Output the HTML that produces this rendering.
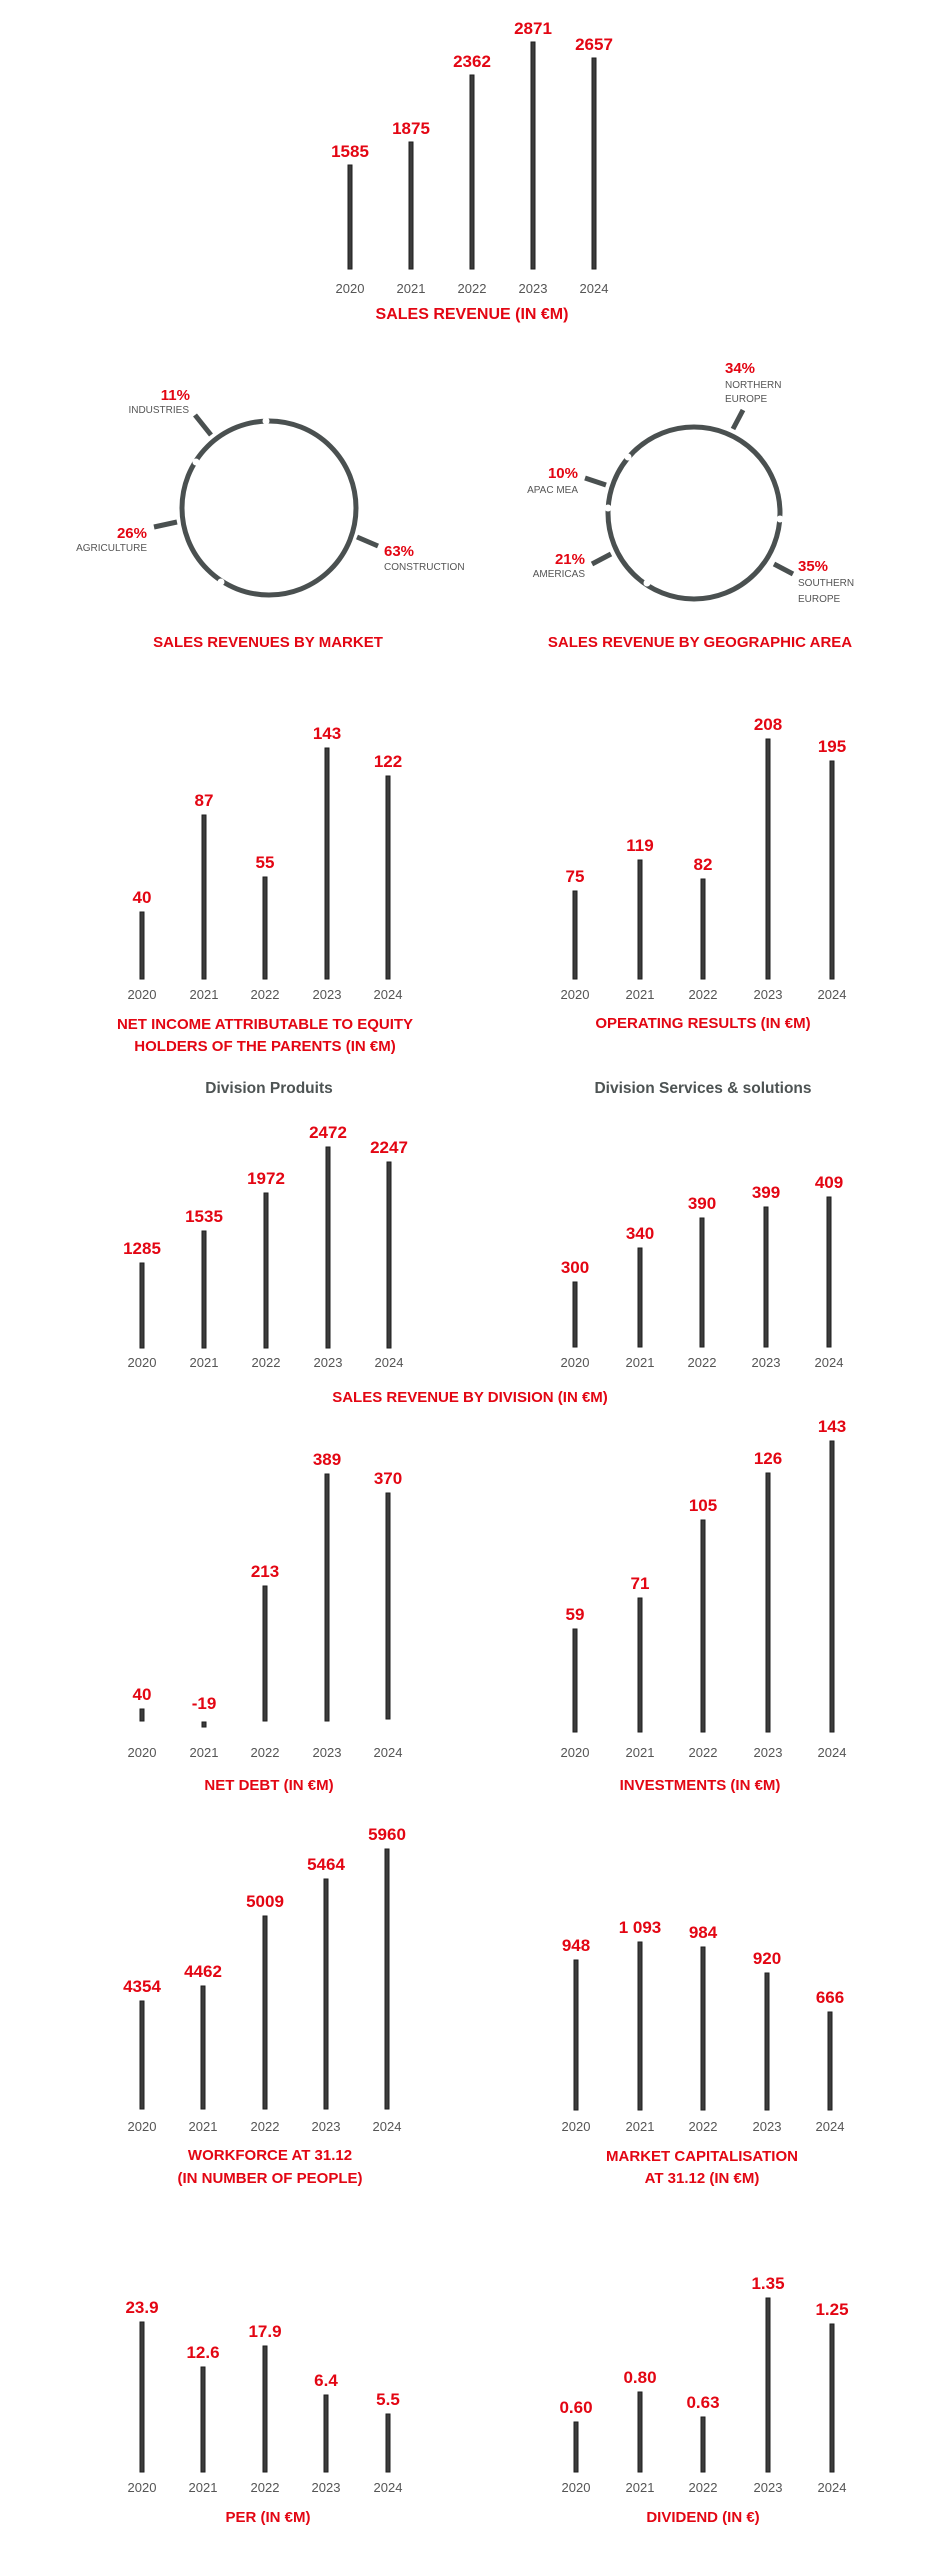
<!DOCTYPE html>
<html><head><meta charset="utf-8"><style>
html,body{margin:0;padding:0;background:#fff;}
svg{display:block;}
.v{font-family:"Liberation Sans",sans-serif;font-weight:bold;font-size:17px;fill:#e30613;text-anchor:middle;}
.y{font-family:"Liberation Sans",sans-serif;font-size:13px;fill:#555;text-anchor:middle;}
.t{font-family:"Liberation Sans",sans-serif;font-weight:bold;font-size:15px;fill:#e30613;text-anchor:middle;}
.h{font-family:"Liberation Sans",sans-serif;font-weight:bold;font-size:15.5px;fill:#4d5353;text-anchor:middle;}
.p{font-family:"Liberation Sans",sans-serif;font-weight:bold;font-size:15px;fill:#e30613;}
.s{font-family:"Liberation Sans",sans-serif;font-size:10px;fill:#555;}
.b{fill:#3c3c3c;stroke:#1e1e1e;stroke-width:1;}
.tk{stroke:#4a5050;stroke-width:5;}
</style></head><body>
<svg width="945" height="2560" viewBox="0 0 945 2560" xmlns="http://www.w3.org/2000/svg">
<!-- Chart 1: Sales revenue -->
<g>
<rect class="b" x="348" y="165" width="4" height="104"/>
<rect class="b" x="409" y="142" width="4" height="127"/>
<rect class="b" x="470" y="75" width="4" height="194"/>
<rect class="b" x="531" y="42" width="4" height="227"/>
<rect class="b" x="592" y="58" width="4" height="211"/>
<text class="v" x="350" y="157">1585</text>
<text class="v" x="411" y="134">1875</text>
<text class="v" x="472" y="67">2362</text>
<text class="v" x="533" y="34">2871</text>
<text class="v" x="594" y="50">2657</text>
<text class="y" x="350" y="293">2020</text>
<text class="y" x="411" y="293">2021</text>
<text class="y" x="472" y="293">2022</text>
<text class="y" x="533" y="293">2023</text>
<text class="y" x="594" y="293">2024</text>
<text class="t" x="472" y="319" style="font-size:16px">SALES REVENUE (IN €M)</text>
</g>
<!-- Donut left -->
<g>
<circle cx="269" cy="508" r="87" fill="none" stroke="#4a5050" stroke-width="5"/>
<circle cx="266" cy="421" r="3.5" fill="#fff"/>
<circle cx="196" cy="462" r="3.5" fill="#fff"/>
<circle cx="221" cy="582" r="3.5" fill="#fff"/>
<line class="tk" x1="195" y1="415" x2="211" y2="435" stroke-width="4"/>
<line class="tk" x1="154" y1="527" x2="177" y2="522" stroke-width="4"/>
<line class="tk" x1="357" y1="537" x2="378" y2="546" stroke-width="4"/>
<text class="p" x="190" y="400" text-anchor="end">11%</text>
<text class="s" x="189" y="413" text-anchor="end">INDUSTRIES</text>
<text class="p" x="147" y="538" text-anchor="end">26%</text>
<text class="s" x="147" y="551" text-anchor="end">AGRICULTURE</text>
<text class="p" x="384" y="556">63%</text>
<text class="s" x="384" y="570">CONSTRUCTION</text>
<text class="t" x="268" y="647">SALES REVENUES BY MARKET</text>
</g>
<!-- Donut right -->
<g>
<circle cx="694" cy="513" r="86" fill="none" stroke="#4a5050" stroke-width="5"/>
<circle cx="628" cy="457" r="3.5" fill="#fff"/>
<circle cx="608" cy="508" r="3.5" fill="#fff"/>
<circle cx="647" cy="583" r="3.5" fill="#fff"/>
<circle cx="780" cy="519" r="3.5" fill="#fff"/>
<line class="tk" x1="743" y1="410" x2="733" y2="429" stroke-width="4"/>
<line class="tk" x1="585" y1="478" x2="606" y2="485" stroke-width="4"/>
<line class="tk" x1="592" y1="564" x2="611" y2="554" stroke-width="4"/>
<line class="tk" x1="774" y1="564" x2="793" y2="574" stroke-width="4"/>
<text class="p" x="725" y="373">34%</text>
<text class="s" x="725" y="388">NORTHERN</text>
<text class="s" x="725" y="402">EUROPE</text>
<text class="p" x="578" y="478" text-anchor="end">10%</text>
<text class="s" x="578" y="493" text-anchor="end">APAC MEA</text>
<text class="p" x="585" y="564" text-anchor="end">21%</text>
<text class="s" x="585" y="577" text-anchor="end">AMERICAS</text>
<text class="p" x="798" y="571">35%</text>
<text class="s" x="798" y="586">SOUTHERN</text>
<text class="s" x="798" y="602">EUROPE</text>
<text class="t" x="700" y="647">SALES REVENUE BY GEOGRAPHIC AREA</text>
</g>
<!-- Net income -->
<g>
<rect class="b" x="140" y="912" width="4" height="67"/>
<rect class="b" x="202" y="815" width="4" height="164"/>
<rect class="b" x="263" y="877" width="4" height="102"/>
<rect class="b" x="325" y="748" width="4" height="231"/>
<rect class="b" x="386" y="776" width="4" height="203"/>
<text class="v" x="142" y="903">40</text>
<text class="v" x="204" y="806">87</text>
<text class="v" x="265" y="868">55</text>
<text class="v" x="327" y="739">143</text>
<text class="v" x="388" y="767">122</text>
<text class="y" x="142" y="999">2020</text>
<text class="y" x="204" y="999">2021</text>
<text class="y" x="265" y="999">2022</text>
<text class="y" x="327" y="999">2023</text>
<text class="y" x="388" y="999">2024</text>
<text class="t" x="265" y="1029">NET INCOME ATTRIBUTABLE TO EQUITY</text>
<text class="t" x="265" y="1051">HOLDERS OF THE PARENTS (IN €M)</text>
</g>
<!-- Operating results -->
<g>
<rect class="b" x="573" y="891" width="4" height="88"/>
<rect class="b" x="638" y="860" width="4" height="119"/>
<rect class="b" x="701" y="879" width="4" height="100"/>
<rect class="b" x="766" y="739" width="4" height="240"/>
<rect class="b" x="830" y="761" width="4" height="218"/>
<text class="v" x="575" y="882">75</text>
<text class="v" x="640" y="851">119</text>
<text class="v" x="703" y="870">82</text>
<text class="v" x="768" y="730">208</text>
<text class="v" x="832" y="752">195</text>
<text class="y" x="575" y="999">2020</text>
<text class="y" x="640" y="999">2021</text>
<text class="y" x="703" y="999">2022</text>
<text class="y" x="768" y="999">2023</text>
<text class="y" x="832" y="999">2024</text>
<text class="t" x="703" y="1028">OPERATING RESULTS (IN €M)</text>
</g>
<text class="h" x="269" y="1093">Division Produits</text>
<text class="h" x="703" y="1093">Division Services &amp; solutions</text>
<!-- Division produits -->
<g>
<rect class="b" x="140" y="1263" width="4" height="85"/>
<rect class="b" x="202" y="1231" width="4" height="117"/>
<rect class="b" x="264" y="1193" width="4" height="155"/>
<rect class="b" x="326" y="1147" width="4" height="201"/>
<rect class="b" x="387" y="1162" width="4" height="186"/>
<text class="v" x="142" y="1254">1285</text>
<text class="v" x="204" y="1222">1535</text>
<text class="v" x="266" y="1184">1972</text>
<text class="v" x="328" y="1138">2472</text>
<text class="v" x="389" y="1153">2247</text>
<text class="y" x="142" y="1367">2020</text>
<text class="y" x="204" y="1367">2021</text>
<text class="y" x="266" y="1367">2022</text>
<text class="y" x="328" y="1367">2023</text>
<text class="y" x="389" y="1367">2024</text>
</g>
<g>
<rect class="b" x="573" y="1282" width="4" height="65"/>
<rect class="b" x="638" y="1248" width="4" height="99"/>
<rect class="b" x="700" y="1218" width="4" height="129"/>
<rect class="b" x="764" y="1207" width="4" height="140"/>
<rect class="b" x="827" y="1197" width="4" height="150"/>
<text class="v" x="575" y="1273">300</text>
<text class="v" x="640" y="1239">340</text>
<text class="v" x="702" y="1209">390</text>
<text class="v" x="766" y="1198">399</text>
<text class="v" x="829" y="1188">409</text>
<text class="y" x="575" y="1367">2020</text>
<text class="y" x="640" y="1367">2021</text>
<text class="y" x="702" y="1367">2022</text>
<text class="y" x="766" y="1367">2023</text>
<text class="y" x="829" y="1367">2024</text>
</g>
<text class="t" x="470" y="1402">SALES REVENUE BY DIVISION (IN €M)</text>
<!-- Net debt -->
<g>
<rect class="b" x="140" y="1709" width="4" height="12"/>
<rect class="b" x="202" y="1722" width="4" height="5"/>
<rect class="b" x="263" y="1586" width="4" height="135"/>
<rect class="b" x="325" y="1474" width="4" height="247"/>
<rect class="b" x="386" y="1493" width="4" height="226"/>
<text class="v" x="142" y="1700">40</text>
<text class="v" x="204" y="1709">-19</text>
<text class="v" x="265" y="1577">213</text>
<text class="v" x="327" y="1465">389</text>
<text class="v" x="388" y="1484">370</text>
<text class="y" x="142" y="1757">2020</text>
<text class="y" x="204" y="1757">2021</text>
<text class="y" x="265" y="1757">2022</text>
<text class="y" x="327" y="1757">2023</text>
<text class="y" x="388" y="1757">2024</text>
<text class="t" x="269" y="1790">NET DEBT (IN €M)</text>
</g>
<!-- Investments -->
<g>
<rect class="b" x="573" y="1629" width="4" height="103"/>
<rect class="b" x="638" y="1598" width="4" height="134"/>
<rect class="b" x="701" y="1520" width="4" height="212"/>
<rect class="b" x="766" y="1473" width="4" height="259"/>
<rect class="b" x="830" y="1441" width="4" height="291"/>
<text class="v" x="575" y="1620">59</text>
<text class="v" x="640" y="1589">71</text>
<text class="v" x="703" y="1511">105</text>
<text class="v" x="768" y="1464">126</text>
<text class="v" x="832" y="1432">143</text>
<text class="y" x="575" y="1757">2020</text>
<text class="y" x="640" y="1757">2021</text>
<text class="y" x="703" y="1757">2022</text>
<text class="y" x="768" y="1757">2023</text>
<text class="y" x="832" y="1757">2024</text>
<text class="t" x="700" y="1790">INVESTMENTS (IN €M)</text>
</g>
<!-- Workforce -->
<g>
<rect class="b" x="140" y="2001" width="4" height="108"/>
<rect class="b" x="201" y="1986" width="4" height="123"/>
<rect class="b" x="263" y="1916" width="4" height="193"/>
<rect class="b" x="324" y="1879" width="4" height="230"/>
<rect class="b" x="385" y="1849" width="4" height="260"/>
<text class="v" x="142" y="1992">4354</text>
<text class="v" x="203" y="1977">4462</text>
<text class="v" x="265" y="1907">5009</text>
<text class="v" x="326" y="1870">5464</text>
<text class="v" x="387" y="1840">5960</text>
<text class="y" x="142" y="2131">2020</text>
<text class="y" x="203" y="2131">2021</text>
<text class="y" x="265" y="2131">2022</text>
<text class="y" x="326" y="2131">2023</text>
<text class="y" x="387" y="2131">2024</text>
<text class="t" x="270" y="2160">WORKFORCE AT 31.12</text>
<text class="t" x="270" y="2183">(IN NUMBER OF PEOPLE)</text>
</g>
<!-- Market cap -->
<g>
<rect class="b" x="574" y="1960" width="4" height="150"/>
<rect class="b" x="638" y="1942" width="4" height="168"/>
<rect class="b" x="701" y="1947" width="4" height="163"/>
<rect class="b" x="765" y="1973" width="4" height="137"/>
<rect class="b" x="828" y="2012" width="4" height="98"/>
<text class="v" x="576" y="1951">948</text>
<text class="v" x="640" y="1933">1 093</text>
<text class="v" x="703" y="1938">984</text>
<text class="v" x="767" y="1964">920</text>
<text class="v" x="830" y="2003">666</text>
<text class="y" x="576" y="2131">2020</text>
<text class="y" x="640" y="2131">2021</text>
<text class="y" x="703" y="2131">2022</text>
<text class="y" x="767" y="2131">2023</text>
<text class="y" x="830" y="2131">2024</text>
<text class="t" x="702" y="2161">MARKET CAPITALISATION</text>
<text class="t" x="702" y="2183">AT 31.12 (IN €M)</text>
</g>
<!-- PER -->
<g>
<rect class="b" x="140" y="2322" width="4" height="150"/>
<rect class="b" x="201" y="2367" width="4" height="105"/>
<rect class="b" x="263" y="2346" width="4" height="126"/>
<rect class="b" x="324" y="2395" width="4" height="77"/>
<rect class="b" x="386" y="2414" width="4" height="58"/>
<text class="v" x="142" y="2313">23.9</text>
<text class="v" x="203" y="2358">12.6</text>
<text class="v" x="265" y="2337">17.9</text>
<text class="v" x="326" y="2386">6.4</text>
<text class="v" x="388" y="2405">5.5</text>
<text class="y" x="142" y="2492">2020</text>
<text class="y" x="203" y="2492">2021</text>
<text class="y" x="265" y="2492">2022</text>
<text class="y" x="326" y="2492">2023</text>
<text class="y" x="388" y="2492">2024</text>
<text class="t" x="268" y="2522">PER (IN €M)</text>
</g>
<!-- Dividend -->
<g>
<rect class="b" x="574" y="2422" width="4" height="50"/>
<rect class="b" x="638" y="2392" width="4" height="80"/>
<rect class="b" x="701" y="2417" width="4" height="55"/>
<rect class="b" x="766" y="2298" width="4" height="174"/>
<rect class="b" x="830" y="2324" width="4" height="148"/>
<text class="v" x="576" y="2413">0.60</text>
<text class="v" x="640" y="2383">0.80</text>
<text class="v" x="703" y="2408">0.63</text>
<text class="v" x="768" y="2289">1.35</text>
<text class="v" x="832" y="2315">1.25</text>
<text class="y" x="576" y="2492">2020</text>
<text class="y" x="640" y="2492">2021</text>
<text class="y" x="703" y="2492">2022</text>
<text class="y" x="768" y="2492">2023</text>
<text class="y" x="832" y="2492">2024</text>
<text class="t" x="703" y="2522">DIVIDEND (IN €)</text>
</g>
</svg>
</body></html>
